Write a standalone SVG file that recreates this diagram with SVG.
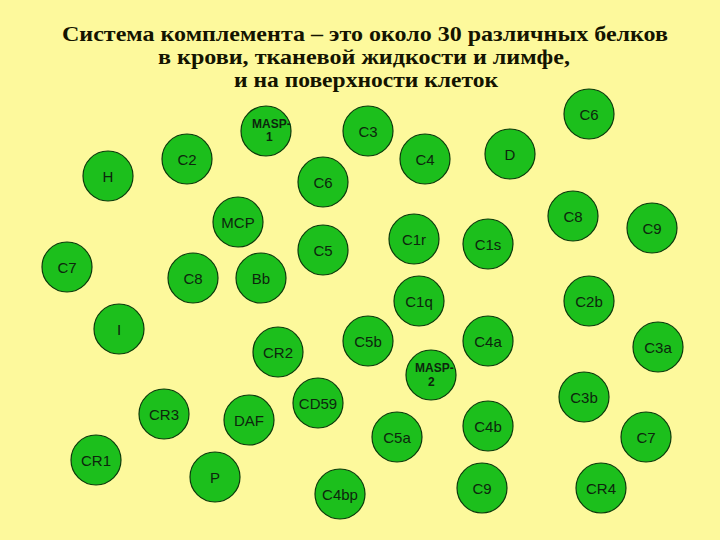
<svg xmlns="http://www.w3.org/2000/svg" width="720" height="540" viewBox="0 0 720 540">
<style>
.bg{fill:#fdf99c}
.n{fill:#1cbf1c;stroke:#0b3a0b;stroke-width:1.2}
.t{font-family:"Liberation Sans",Arial,sans-serif;font-size:15px;fill:#0d260d;text-anchor:middle;dominant-baseline:central}
.s{font-family:"Liberation Sans",Arial,sans-serif;font-size:12px;font-weight:bold;fill:#0d260d}
.title{font-family:"Liberation Serif","Times New Roman",serif;font-size:22px;font-weight:bold;fill:#141400}
</style>
<rect class="bg" x="0" y="0" width="720" height="540"/>
<g id="title">
<text class="title" x="62" y="41" textLength="606" lengthAdjust="spacingAndGlyphs">Система комплемента – это около 30 различных белков</text>
<text class="title" x="158" y="64" textLength="412" lengthAdjust="spacingAndGlyphs">в крови, тканевой жидкости и лимфе,</text>
<text class="title" x="234" y="87" textLength="264" lengthAdjust="spacingAndGlyphs">и на поверхности клеток</text>
</g>
<g id="connectors"></g>
<g id="n-masp1"><circle class="n" cx="266" cy="131" r="25"/><text class="s" x="252" y="128">MASP-</text><text class="s" x="266" y="141">1</text></g>
<g id="n-c3"><circle class="n" cx="368" cy="131" r="25"/><text class="t" x="368" y="131">C3</text></g>
<g id="n-c2"><circle class="n" cx="187" cy="159" r="25"/><text class="t" x="187" y="159">C2</text></g>
<g id="n-h"><circle class="n" cx="108" cy="176" r="25"/><text class="t" x="108" y="176">H</text></g>
<g id="n-c6a"><circle class="n" cx="323" cy="182" r="25"/><text class="t" x="323" y="182">C6</text></g>
<g id="n-mcp"><circle class="n" cx="238" cy="222" r="25"/><text class="t" x="238" y="222">MCP</text></g>
<g id="n-c5"><circle class="n" cx="323" cy="250" r="25"/><text class="t" x="323" y="250">C5</text></g>
<g id="n-c7a"><circle class="n" cx="67" cy="267" r="25"/><text class="t" x="67" y="267">C7</text></g>
<g id="n-c8a"><circle class="n" cx="193" cy="278" r="25"/><text class="t" x="193" y="278">C8</text></g>
<g id="n-bb"><circle class="n" cx="261" cy="278" r="25"/><text class="t" x="261" y="278">Bb</text></g>
<g id="n-c6b"><circle class="n" cx="589" cy="114" r="25"/><text class="t" x="589" y="114">C6</text></g>
<g id="n-c4"><circle class="n" cx="425" cy="159" r="25"/><text class="t" x="425" y="159">C4</text></g>
<g id="n-d"><circle class="n" cx="510" cy="154" r="25"/><text class="t" x="510" y="154">D</text></g>
<g id="n-c8b"><circle class="n" cx="573" cy="216" r="25"/><text class="t" x="573" y="216">C8</text></g>
<g id="n-c9a"><circle class="n" cx="652" cy="228" r="25"/><text class="t" x="652" y="228">C9</text></g>
<g id="n-c1r"><circle class="n" cx="414" cy="239" r="25"/><text class="t" x="414" y="239">C1r</text></g>
<g id="n-c1s"><circle class="n" cx="488" cy="244" r="25"/><text class="t" x="488" y="244">C1s</text></g>
<g id="n-c1q"><circle class="n" cx="419" cy="301" r="25"/><text class="t" x="419" y="301">C1q</text></g>
<g id="n-c2b"><circle class="n" cx="589" cy="301" r="25"/><text class="t" x="589" y="301">C2b</text></g>
<g id="n-c4a"><circle class="n" cx="488" cy="341" r="25"/><text class="t" x="488" y="341">C4a</text></g>
<g id="n-masp2"><circle class="n" cx="431" cy="375" r="25"/><text class="s" x="415" y="372">MASP-</text><text class="s" x="428" y="386">2</text></g>
<g id="n-c3a"><circle class="n" cx="658" cy="347" r="25"/><text class="t" x="658" y="347">C3a</text></g>
<g id="n-c3b"><circle class="n" cx="584" cy="397" r="25"/><text class="t" x="584" y="397">C3b</text></g>
<g id="n-c5a"><circle class="n" cx="397" cy="437" r="25"/><text class="t" x="397" y="437">C5a</text></g>
<g id="n-c4b"><circle class="n" cx="488" cy="426" r="25"/><text class="t" x="488" y="426">C4b</text></g>
<g id="n-c7b"><circle class="n" cx="646" cy="437" r="25"/><text class="t" x="646" y="437">C7</text></g>
<g id="n-c9b"><circle class="n" cx="482" cy="488" r="25"/><text class="t" x="482" y="488">C9</text></g>
<g id="n-cr4"><circle class="n" cx="601" cy="488" r="25"/><text class="t" x="601" y="488">CR4</text></g>
<g id="n-i"><circle class="n" cx="119" cy="329" r="25"/><text class="t" x="119" y="329">I</text></g>
<g id="n-cr2"><circle class="n" cx="278" cy="352" r="25"/><text class="t" x="278" y="352">CR2</text></g>
<g id="n-c5b"><circle class="n" cx="368" cy="341" r="25"/><text class="t" x="368" y="341">C5b</text></g>
<g id="n-cd59"><circle class="n" cx="318" cy="403" r="25"/><text class="t" x="318" y="403">CD59</text></g>
<g id="n-cr3"><circle class="n" cx="164" cy="414" r="25"/><text class="t" x="164" y="414">CR3</text></g>
<g id="n-daf"><circle class="n" cx="249" cy="420" r="25"/><text class="t" x="249" y="420">DAF</text></g>
<g id="n-cr1"><circle class="n" cx="96" cy="460" r="25"/><text class="t" x="96" y="460">CR1</text></g>
<g id="n-p"><circle class="n" cx="215" cy="477" r="25"/><text class="t" x="215" y="477">P</text></g>
<g id="n-c4bp"><circle class="n" cx="340" cy="494" r="25"/><text class="t" x="340" y="494">C4bp</text></g>
</svg>
